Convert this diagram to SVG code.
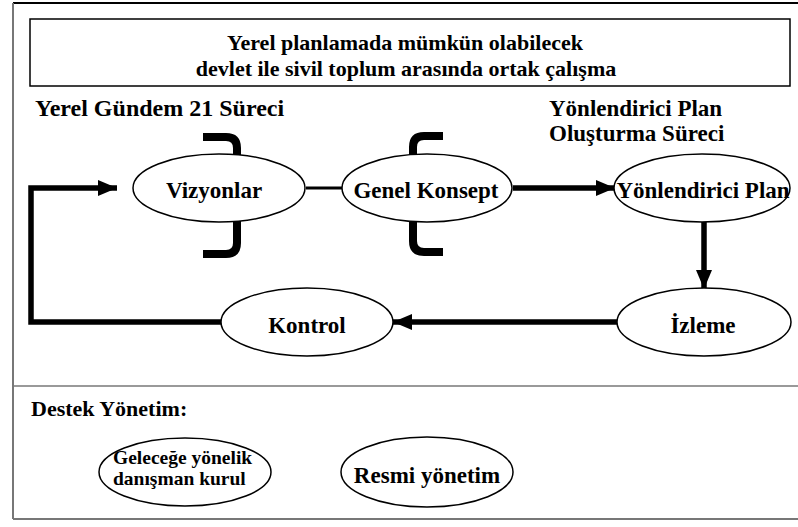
<svg xmlns="http://www.w3.org/2000/svg" width="798" height="527" viewBox="0 0 798 527">
  <style>
    text { font-family: "Liberation Serif", "DejaVu Serif", serif; font-weight: bold; fill: #000; }
    .node ellipse { fill: #fff; stroke: #000; stroke-width: 1.5; }
    .lbl { font-size: 23px; text-anchor: middle; }
    .title { font-size: 22px; text-anchor: middle; }
    .head { font-size: 24px; }
    .small { font-size: 19.5px; }
    .flow { fill: none; stroke: #000; stroke-width: 5.5; }
    .bracket { fill: none; stroke: #000; stroke-width: 8; }
  </style>
  <defs>
    <marker id="arrow" markerUnits="userSpaceOnUse" markerWidth="20" markerHeight="16" refX="19" refY="8" orient="auto">
      <path d="M0,0 L19,8 L0,16 Z" fill="#000"/>
    </marker>
  </defs>

  <rect width="798" height="527" fill="#fff"/>

  <!-- outer frame and section divider -->
  <g id="frame">
    <line x1="13" y1="3" x2="798" y2="3" stroke="#000" stroke-width="2"/>
    <line x1="13" y1="3" x2="13" y2="519" stroke="#777" stroke-width="2"/>
    <line x1="13" y1="519" x2="798" y2="519" stroke="#777" stroke-width="2"/>
    <line x1="13" y1="386" x2="798" y2="386" stroke="#777" stroke-width="1.5"/>
  </g>

  <!-- heading box -->
  <g id="title">
    <rect x="30" y="19" width="760" height="67" fill="#fff" stroke="#000" stroke-width="1.5"/>
    <text class="title" x="405" y="50">Yerel planlamada mümkün olabilecek</text>
    <text class="title" x="406" y="76">devlet ile sivil toplum arasında ortak çalışma</text>
  </g>

  <g id="process-labels">
    <text class="head" x="35" y="116">Yerel Gündem 21 Süreci</text>
    <text class="head" x="549" y="116" style="font-size:23px">Yönlendirici Plan</text>
    <text class="head" x="549" y="141" style="font-size:23px">Oluşturma Süreci</text>
  </g>

  <!-- brackets grouping the visioning stage -->
  <g id="brackets">
    <path class="bracket" d="M203,137 H226 Q237,137 237,148 V155"/>
    <path class="bracket" d="M237,221 V243 Q237,254 226,254 H203"/>
    <path class="bracket" d="M443,136 H424 Q413,136 413,147 V155"/>
    <path class="bracket" d="M413,221 V241 Q413,252 424,252 H443"/>
  </g>

  <!-- connectors -->
  <g id="connectors">
    <polyline class="flow" points="221,322 31,322 31,188 117,188" marker-end="url(#arrow)"/>
    <line x1="306" y1="188" x2="342" y2="188" stroke="#000" stroke-width="3"/>
    <line class="flow" x1="513" y1="188" x2="615" y2="188" marker-end="url(#arrow)"/>
    <line class="flow" x1="704" y1="221" x2="704" y2="289" marker-end="url(#arrow)"/>
    <line class="flow" x1="617" y1="322" x2="393" y2="322" marker-end="url(#arrow)"/>
  </g>

  <g id="vizyonlar" class="node">
    <ellipse cx="219" cy="188" rx="86" ry="34"/>
    <text class="lbl" x="214" y="198">Vizyonlar</text>
  </g>
  <g id="genel-konsept" class="node">
    <ellipse cx="427" cy="188" rx="85" ry="34"/>
    <text class="lbl" x="426" y="198">Genel Konsept</text>
  </g>
  <g id="yonlendirici-plan" class="node">
    <ellipse cx="702" cy="188" rx="88" ry="34"/>
    <text class="lbl" x="703" y="198">Yönlendirici Plan</text>
  </g>
  <g id="izleme" class="node">
    <ellipse cx="704" cy="322" rx="87" ry="34"/>
    <text class="lbl" x="703" y="333">İzleme</text>
  </g>
  <g id="kontrol" class="node">
    <ellipse cx="307" cy="322" rx="86" ry="34"/>
    <text class="lbl" x="307" y="333">Kontrol</text>
  </g>

  <g id="destek">
    <text class="head" x="31" y="416" style="font-size:22px">Destek Yönetim:</text>
  </g>
  <g id="danisman-kurul" class="node">
    <ellipse cx="185" cy="472" rx="86" ry="34"/>
    <text class="small" x="113" y="464">Geleceğe yönelik</text>
    <text class="small" x="113" y="485">danışman kurul</text>
  </g>
  <g id="resmi-yonetim" class="node">
    <ellipse cx="427" cy="472" rx="86" ry="35"/>
    <text class="lbl" x="427" y="483">Resmi yönetim</text>
  </g>
</svg>
